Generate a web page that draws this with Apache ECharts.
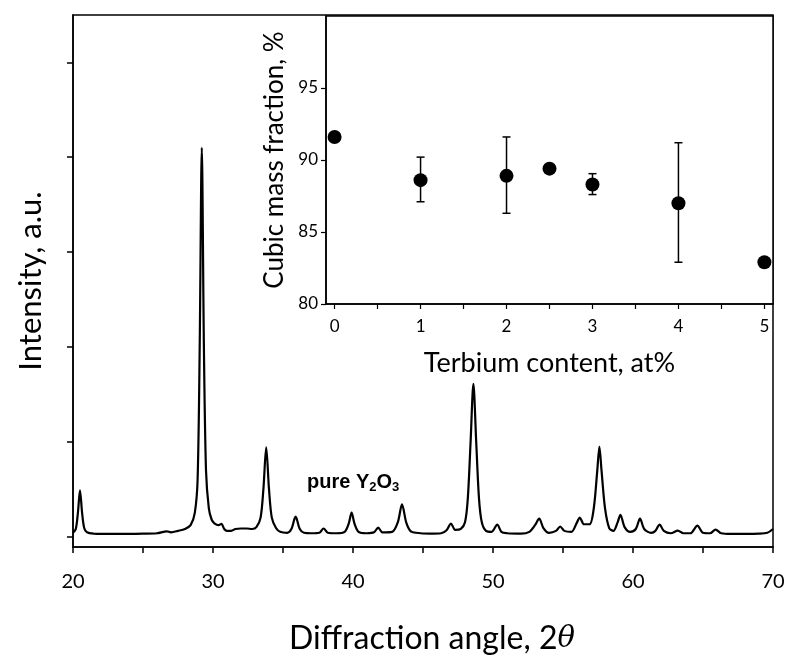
<!DOCTYPE html>
<html>
<head>
<meta charset="utf-8">
<script src="https://cdn.jsdelivr.net/npm/echarts@6/dist/echarts.min.js"></script>
<style>html,body{margin:0;padding:0;background:#fff}#c{width:800px;height:664px}</style>
</head>
<body>
<div id="c"></div>
<script>
// Main XRD pattern (2θ in degrees, intensity in arbitrary units)
const xrdAngle = [20.0,20.2,20.35,20.5,20.65,20.8,21.0,21.5,22,23,24,25,26,26.7,27,27.5,28,28.4,28.7,28.9,29.05,29.2,29.35,29.5,29.7,29.9,30.1,30.4,30.6,30.8,31.0,31.3,31.6,32.0,32.4,32.8,33.1,33.4,33.6,33.8,34.0,34.2,34.5,34.8,35.3,35.6,35.9,36.2,36.5,37.0,37.6,37.9,38.2,38.8,39.4,39.7,39.9,40.1,40.4,41.0,41.5,41.8,42.1,42.8,43.2,43.5,43.8,44.1,44.5,45.5,46.3,46.7,47.0,47.3,47.7,48.0,48.2,48.4,48.6,48.8,49.0,49.2,49.5,49.9,50.3,50.6,51,52,52.6,53.0,53.3,53.6,54.0,54.5,54.8,55.1,55.6,56.0,56.2,56.5,56.9,57.2,57.45,57.6,57.75,58.0,58.3,58.6,58.9,59.1,59.4,59.8,60.2,60.5,60.8,61.3,61.6,61.9,62.2,62.7,63.2,63.6,64.1,64.6,65.0,65.5,65.9,66.3,67,68,69,69.6,70];
const xrdIntensity = [4,8,25,48.7,25,9,4.5,3,2.8,2.8,2.8,3,3.5,5.5,4.5,6,8,12,25,60,200,410,200,70,30,18,14,12,13.5,8,6,6,8,8.5,8.5,8,10,20,50,94,50,20,9,5,4,8,21,8,4,3.5,4,8.5,4,3.5,5,14,25.4,14,5,3.5,4.5,9.5,4.5,5,15,34,15,6,4,3,3.5,7,13.8,7,8,15,40,100,161,100,40,15,6,5,12.7,5,3.5,3,5,12,19,9,4,6,10.6,6,5,15,20,13,13,30,70,95,70,30,9,6,15,23,10,5,8,19,8,4,6,12.7,6,3.5,6.3,3.5,3.5,11.6,4,3.5,7.4,3.5,2.8,2.8,3,4,8];
const mainXTicks = [20,25,30,35,40,45,50,55,60,65,70];
const mainXLabels = [20,30,40,50,60,70];
const mainYTicks = [0,100,200,300,400,500];

// Inset: cubic mass fraction vs terbium content
const terbium = [0,1,2,2.5,3,4,5];
const cubicFraction = [91.6,88.6,88.9,89.4,88.3,87.0,82.9];
const errLow  = [null,87.1,86.3,null,87.6,82.9,null];
const errHigh = [null,90.2,91.6,null,89.05,91.2,null];
const insetXTicks = [0,0.5,1,1.5,2,2.5,3,3.5,4,4.5,5];
const insetXLabels = [0,1,2,3,4,5];
const insetYTicks = [80,85,90,95];

const FONT = 'Lato';
const chart = echarts.init(document.getElementById('c'), null, {renderer:'canvas'});

const xrdData = xrdAngle.map((a,i)=>[a, xrdIntensity[i]]);
const errData = [];
terbium.forEach((t,i)=>{ if (errLow[i] != null) errData.push([t, errLow[i], errHigh[i]]); });
const insetData = terbium.map((t,i)=>[t, cubicFraction[i]]);

const axisLine = {show:true, onZero:false, lineStyle:{color:'#000', width:1.5}};
chart.setOption({
  animation:false,
  backgroundColor:'#fff',
  grid:[
    {left:73, top:15, right:27, bottom:117, show:true, borderColor:'#000', borderWidth:1.5, backgroundColor:'transparent'},
    {left:326, top:16, right:27, bottom:360, show:true, borderColor:'#000', borderWidth:1.5, backgroundColor:'#fff'}
  ],
  xAxis:[
    {gridIndex:0, type:'value', min:20, max:70, axisLine,
     axisTick:{show:true, inside:false, length:6, customValues:mainXTicks, lineStyle:{color:'#000', width:1.5}},
     axisLabel:{customValues:mainXLabels, color:'#000', fontFamily:FONT, fontSize:20, margin:25},
     splitLine:{show:false},
     name:'Diffraction angle, 2{i|θ}', nameLocation:'middle', nameGap:76,
     nameTextStyle:{color:'#000', fontFamily:FONT, fontSize:32, padding:[0,0,0,18], rich:{i:{fontStyle:'italic', fontFamily:'DejaVu Serif', fontSize:29, color:'#000'}}}},
    {gridIndex:1, type:'value', min:-0.1, max:5.1, axisLine,
     axisTick:{show:true, length:5, customValues:insetXTicks, lineStyle:{color:'#000', width:1.2}},
     axisLabel:{customValues:insetXLabels, color:'#000', fontFamily:FONT, fontSize:17, margin:14},
     splitLine:{show:false},
     name:'Terbium content, at%', nameLocation:'middle', nameGap:46,
     nameTextStyle:{color:'#000', fontFamily:FONT, fontSize:27}}
  ],
  yAxis:[
    {gridIndex:0, type:'value', min:-11, max:550, axisLine,
     axisTick:{show:true, length:6, customValues:mainYTicks, lineStyle:{color:'#000', width:1.5}},
     axisLabel:{show:false}, splitLine:{show:false},
     name:'Intensity, a.u.', nameLocation:'middle', nameGap:27, nameRotate:90,
     nameTextStyle:{color:'#000', fontFamily:FONT, fontSize:31}},
    {gridIndex:1, type:'value', min:80, max:100, axisLine,
     axisTick:{show:true, length:5, customValues:insetYTicks, lineStyle:{color:'#000', width:1.2}},
     axisLabel:{customValues:insetYTicks, color:'#000', fontFamily:FONT, fontSize:17, margin:8},
     splitLine:{show:false},
     name:'Cubic mass fraction, %', nameLocation:'middle', nameGap:34, nameRotate:90,
     nameTextStyle:{color:'#000', fontFamily:FONT, fontSize:26}}
  ],
  series:[
    {type:'line', xAxisIndex:0, yAxisIndex:0, data:xrdData, showSymbol:false, smooth:0.3,
     lineStyle:{color:'#000', width:2.2}},
    {type:'custom', xAxisIndex:1, yAxisIndex:1, data:errData, z:2,
     renderItem:function(params, api){
       const x = api.value(0), lo = api.value(1), hi = api.value(2);
       const p1 = api.coord([x, hi]), p2 = api.coord([x, lo]);
       const w = 4;
       const st = {stroke:'#000', lineWidth:1.5};
       return {type:'group', children:[
         {type:'line', shape:{x1:p1[0], y1:p1[1], x2:p2[0], y2:p2[1]}, style:st},
         {type:'line', shape:{x1:p1[0]-w, y1:p1[1], x2:p1[0]+w, y2:p1[1]}, style:st},
         {type:'line', shape:{x1:p2[0]-w, y1:p2[1], x2:p2[0]+w, y2:p2[1]}, style:st}
       ]};
     }},
    {type:'scatter', xAxisIndex:1, yAxisIndex:1, data:insetData, symbol:'circle', symbolSize:14, z:3,
     itemStyle:{color:'#000', opacity:1}}
  ],
  graphic:[
    {type:'text', left:307, top:472,
     style:{text:'pure Y{s|2}O{s|3}', fill:'#000', font:'bold 20px "Liberation Sans"',
            rich:{s:{fontSize:13, fontWeight:'bold', fontFamily:'Liberation Sans', verticalAlign:'bottom', padding:[10,0,0,0], fill:'#000'}}}}
  ]
});
</script>
</body>
</html>
